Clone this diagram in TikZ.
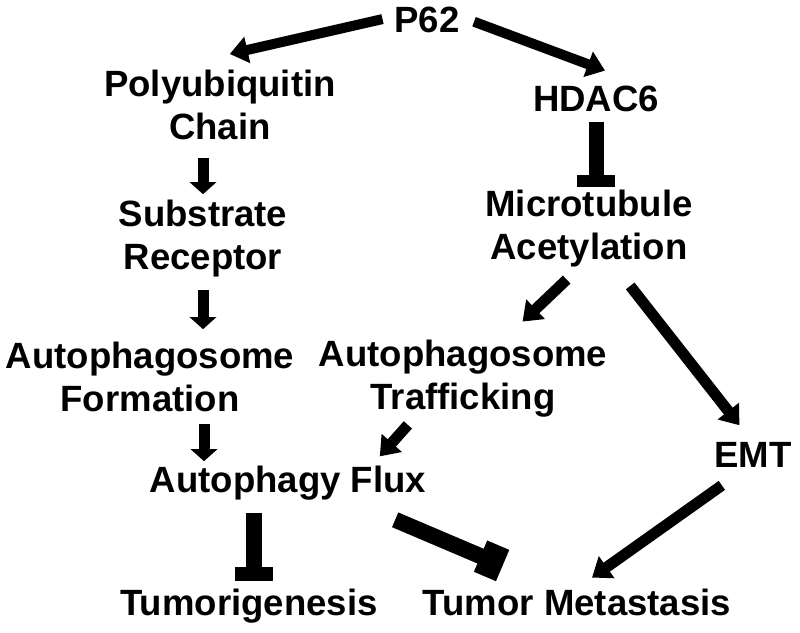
\documentclass[tikz,border=0pt]{standalone}
\usepackage{fontspec}
\setmainfont{Liberation Sans}
\usetikzlibrary{arrows.meta}
\begin{document}
\begin{tikzpicture}[x=0.25mm,y=-0.25mm,
  lbl/.style={font=\fontsize{26}{30.6}\selectfont\bfseries,inner sep=0pt,align=center,anchor=base},
  act/.style={line width=2.75mm,-{Triangle[length=4.5mm,width=6.5mm]}},
  actshort/.style={line width=2.75mm,-{Triangle[length=3mm,width=6.5mm]}},
  inh/.style={line width=3.75mm,-{Rectangle[length=3mm,width=9.5mm]}}]
\useasboundingbox (0,0) rectangle (800,633);
% labels, placed at the baseline of their last line
\node[lbl] (p62) at (427,33) {P62};
\node[lbl] (poly) at (220,140) {Polyubiquitin\\Chain};
\node[lbl] (hdac) at (596,112) {HDAC6};
\node[lbl] (subst) at (203,270) {Substrate\\Receptor};
\node[lbl] (micro) at (589,260) {Microtubule\\Acetylation};
\node[lbl] (form) at (150,412) {Autophagosome\\Formation};
\node[lbl] (traf) at (463,410) {Autophagosome\\Trafficking};
\node[lbl] (emt) at (753,468) {EMT};
\node[lbl] (flux) at (288,493) {Autophagy Flux};
\node[lbl] (tumor) at (249,615) {Tumorigenesis};
\node[lbl] (meta) at (577,615) {Tumor Metastasis};
% left branch
\draw[act,line width=2.5mm,shorten <=3mm,shorten >=2.5mm] ([yshift=1mm]p62.west) -- ([yshift=3.5mm]poly.north);
\draw[actshort,shorten <=4.25mm,shorten >=1.5mm] (subst.north |- poly.south) -- (subst.north);
\draw[actshort,shorten <=3mm,shorten >=3.25mm] (subst.south) -- (subst.south |- form.north);
\draw[actshort,shorten <=2.75mm,shorten >=1.25mm] ([xshift=13.5mm]form.south) -- ([xshift=13.5mm]form.south |- flux.north);
\draw[inh,line width=4mm,-{Rectangle[length=3.5mm,width=9.5mm]},shorten <=3.1mm,shorten >=1.75mm] ([xshift=-8.5mm]flux.south) -- ([xshift=-8.5mm]flux.south |- tumor.north);
% right branch
\draw[act,line width=2.5mm,shorten <=3.8mm,shorten >=4mm] ([yshift=1mm]p62.east) -- ([xshift=6mm,yshift=2.5mm]hdac.north);
\draw[inh,shorten <=2.25mm,shorten >=0.75mm] (hdac.south) -- (hdac.south |- micro.north);
\draw[act,shorten <=4.25mm,shorten >=6.75mm] ([xshift=-2.5mm]micro.south) -- ([xshift=10mm]traf.north);
\draw[act,shorten <=5.75mm,shorten >=5.5mm] ([xshift=6.75mm]micro.south) -- (emt.north);
\draw[act,shorten <=2.3mm,shorten >=3.3mm] ([xshift=-12.25mm]traf.south) -- ([xshift=20.75mm]flux.north);
\draw[inh,line width=4mm,-{Rectangle[length=6mm,width=8.5mm]},shorten <=12mm,shorten >=14.5mm] ([xshift=15.75mm]flux.south) -- ([xshift=-5.25mm]meta.north);
\draw[act,shorten <=7.4mm,shorten >=4.6mm] ([xshift=-1.75mm]emt.south) -- (meta.north);
\end{tikzpicture}
\end{document}
